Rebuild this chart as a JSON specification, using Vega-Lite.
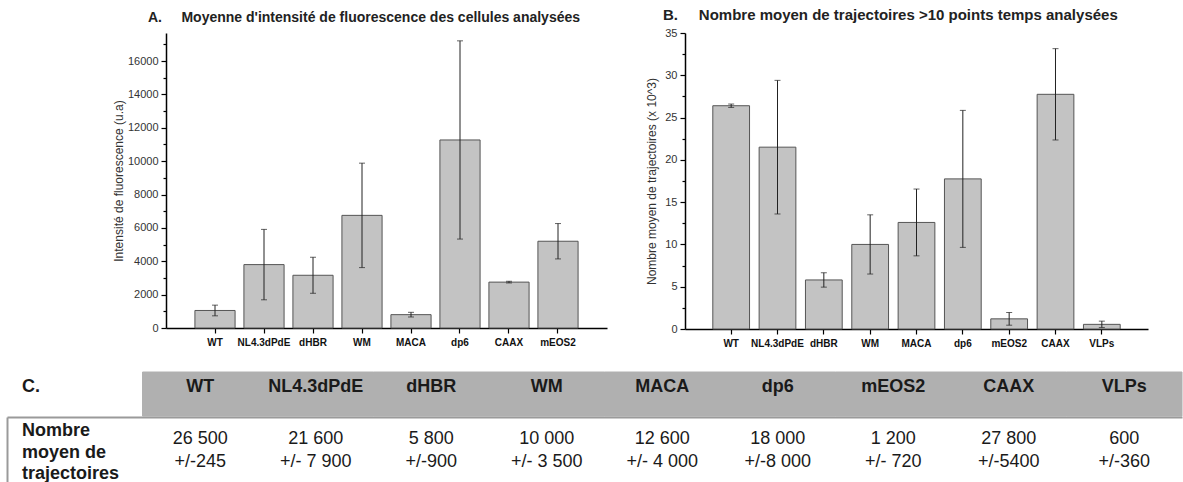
{
  "$schema": "https://vega.github.io/schema/vega-lite/v6.json",
  "background": "white",
  "padding": {"left": 7, "top": 8, "right": 0, "bottom": 0},
  "config": {
    "font": "Liberation Sans",
    "view": {"stroke": null},
    "axis": {"grid": false, "domainColor": "#000", "domainWidth": 1.5, "tickColor": "#000", "tickWidth": 1.2, "tickSize": 5, "labelColor": "#333", "titleColor": "#333", "titleFontWeight": "normal", "labelOverlap": false}
  },
  "datasets": {
    "fluo": [
      {"name": "WT", "mean": 1050, "err": 320},
      {"name": "NL4.3dPdE", "mean": 3800, "err": 2110},
      {"name": "dHBR", "mean": 3160, "err": 1080},
      {"name": "WM", "mean": 6750, "err": 3130},
      {"name": "MACA", "mean": 800, "err": 140},
      {"name": "dp6", "mean": 11270, "err": 5940},
      {"name": "CAAX", "mean": 2750, "err": 50},
      {"name": "mEOS2", "mean": 5200, "err": 1060}
    ],
    "traj": [
      {"name": "WT", "mean": 26.4, "err": 0.2},
      {"name": "NL4.3dPdE", "mean": 21.5, "err": 7.9},
      {"name": "dHBR", "mean": 5.8, "err": 0.85},
      {"name": "WM", "mean": 10.0, "err": 3.5},
      {"name": "MACA", "mean": 12.6, "err": 3.95},
      {"name": "dp6", "mean": 17.75, "err": 8.1},
      {"name": "mEOS2", "mean": 1.2, "err": 0.75},
      {"name": "CAAX", "mean": 27.75, "err": 5.4},
      {"name": "VLPs", "mean": 0.55, "err": 0.38}
    ],
    "header": [
      {"col": "C.", "txt": "C."},
      {"col": "WT", "txt": "WT"},
      {"col": "NL4.3dPdE", "txt": "NL4.3dPdE"},
      {"col": "dHBR", "txt": "dHBR"},
      {"col": "WM", "txt": "WM"},
      {"col": "MACA", "txt": "MACA"},
      {"col": "dp6", "txt": "dp6"},
      {"col": "mEOS2", "txt": "mEOS2"},
      {"col": "CAAX", "txt": "CAAX"},
      {"col": "VLPs", "txt": "VLPs"}
    ],
    "cells": [
      {"col": "row", "txt": "Nombre\nmoyen de\ntrajectoires"},
      {"col": "WT", "txt": "26 500\n+/-245"},
      {"col": "NL4.3dPdE", "txt": "21 600\n+/- 7 900"},
      {"col": "dHBR", "txt": "5 800\n+/-900"},
      {"col": "WM", "txt": "10 000\n+/- 3 500"},
      {"col": "MACA", "txt": "12 600\n+/- 4 000"},
      {"col": "dp6", "txt": "18 000\n+/-8 000"},
      {"col": "mEOS2", "txt": "1 200\n+/- 720"},
      {"col": "CAAX", "txt": "27 800\n+/-5400"},
      {"col": "VLPs", "txt": "600\n+/-360"}
    ]
  },
  "spacing": 23,
  "vconcat": [
    {
      "spacing": 38,
      "hconcat": [
        {"width": 67, "height": 10, "data": {"values": []}, "mark": "point", "encoding": {}},
        {
          "width": 441,
          "height": 295,
          "title": {"text": "A.\u00a0\u00a0\u00a0\u00a0\u00a0Moyenne d'intensité de fluorescence des cellules analysées", "anchor": "start", "frame": "group", "baseline": "alphabetic", "offset": -3, "dx": -18, "fontSize": 14, "fontWeight": "bold", "color": "#222"},
          "data": {"name": "fluo"},
          "resolve": {"axis": {"y": "independent"}},
          "encoding": {
            "x": {"field": "name", "type": "nominal", "sort": null, "scale": {"paddingInner": 0.18, "paddingOuter": 0.59},
              "axis": {"title": null, "labelAngle": 0, "labelFontWeight": "bold", "labelFontSize": 10, "labelColor": "#111", "labelPadding": 4}}
          },
          "layer": [
            {
              "mark": {"type": "bar", "fill": "#c3c3c3", "stroke": "#555", "strokeWidth": 1},
              "encoding": {
                "y": {"field": "mean", "type": "quantitative", "title": "Intensité de fluorescence (u.a)",
                  "scale": {"domain": [0, 17680], "nice": false},
                  "axis": {"orient": "left", "values": [0, 2000, 4000, 6000, 8000, 10000, 12000, 14000, 16000], "format": "d", "labelOverlap": false, "labelFontSize": 11, "titleFontSize": 12, "labelPadding": 3, "titlePadding": 2}}
              }
            },
            {
              "mark": {"type": "errorbar", "ticks": {"size": 6, "color": "#222"}, "rule": {"color": "#222", "strokeWidth": 1}},
              "encoding": {
                "y": {"field": "mean", "type": "quantitative", "title": null,
                  "axis": {"orient": "left", "values": [1000, 3000, 5000, 7000, 9000, 11000, 13000, 15000, 17000], "labels": false, "domain": false, "tickSize": 3, "title": null}},
                "yError": {"field": "err"}
              }
            }
          ]
        },
        {
          "width": 463,
          "height": 296,
          "title": {"text": "B.\u00a0\u00a0\u00a0\u00a0\u00a0Nombre moyen de trajectoires >10 points temps analysées", "anchor": "start", "frame": "group", "baseline": "alphabetic", "offset": -8, "dx": -22, "fontSize": 15, "fontWeight": "bold", "color": "#222"},
          "data": {"name": "traj"},
          "resolve": {"axis": {"y": "independent"}},
          "encoding": {
            "x": {"field": "name", "type": "nominal", "sort": null, "scale": {"paddingInner": 0.207, "paddingOuter": 0.6},
              "axis": {"title": null, "labelAngle": 0, "labelFontWeight": "bold", "labelFontSize": 10, "labelColor": "#111", "labelPadding": 4}}
          },
          "layer": [
            {
              "mark": {"type": "bar", "fill": "#c3c3c3", "stroke": "#555", "strokeWidth": 1},
              "encoding": {
                "y": {"field": "mean", "type": "quantitative", "title": "Nombre moyen de trajectoires (x 10^3)",
                  "scale": {"domain": [0, 35], "nice": false},
                  "axis": {"orient": "left", "values": [0, 5, 10, 15, 20, 25, 30, 35], "labelOverlap": false, "labelFontSize": 11, "titleFontSize": 12, "labelPadding": 3, "titlePadding": 6}}
              }
            },
            {
              "mark": {"type": "errorbar", "ticks": {"size": 6, "color": "#222"}, "rule": {"color": "#222", "strokeWidth": 1}},
              "encoding": {
                "y": {"field": "mean", "type": "quantitative", "title": null,
                  "axis": {"orient": "left", "values": [2.5, 7.5, 12.5, 17.5, 22.5, 27.5, 32.5], "labels": false, "domain": false, "tickSize": 3, "title": null}},
                "yError": {"field": "err"}
              }
            }
          ]
        }
      ]
    },
    {
      "spacing": 0,
      "vconcat": [
        {
          "width": 1175,
          "height": 44,
          "data": {"name": "header"},
          "encoding": {
            "x": {"field": "col", "type": "nominal", "scale": {"type": "band", "domain": ["C.", "WT", "NL4.3dPdE", "dHBR", "WM", "MACA", "dp6", "mEOS2", "CAAX", "VLPs"], "paddingInner": 0, "paddingOuter": 0.0866, "align": 1}, "axis": null}
          },
          "layer": [
            {"transform": [{"filter": "datum.col !== 'C.'"}], "mark": {"type": "bar", "color": "#b0b0b0", "stroke": "#b0b0b0", "strokeWidth": 1}},
            {"transform": [{"filter": "datum.col !== 'C.'"}], "mark": {"type": "text", "fontSize": 18, "fontWeight": "bold", "color": "#1a1a1a", "dy": -7}, "encoding": {"text": {"field": "txt"}}},
            {"transform": [{"filter": "datum.col === 'C.'"}], "mark": {"type": "text", "fontSize": 18, "fontWeight": "bold", "color": "#1a1a1a", "align": "left", "dy": -7, "dx": -5}, "encoding": {"x": {"field": "col", "type": "nominal", "bandPosition": 0}, "text": {"field": "txt"}}}
          ]
        },
        {
          "width": 1175,
          "height": 66,
          "data": {"name": "cells"},
          "encoding": {
            "x": {"field": "col", "type": "nominal", "scale": {"type": "band", "domain": ["row", "WT", "NL4.3dPdE", "dHBR", "WM", "MACA", "dp6", "mEOS2", "CAAX", "VLPs"], "paddingInner": 0, "paddingOuter": 0.0866, "align": 1},
              "axis": {"orient": "top", "labels": false, "ticks": false, "title": null, "domainColor": "#9a9a9a", "domainWidth": 2}},
            "y": {"datum": "v", "type": "nominal", "axis": {"labels": false, "ticks": false, "title": null, "domainColor": "#9a9a9a", "domainWidth": 2}}
          },
          "layer": [
            {"transform": [{"filter": "datum.col !== 'row'"}], "mark": {"type": "text", "fontSize": 18, "color": "#1a1a1a", "lineBreak": "\n", "lineHeight": 23, "dy": -11}, "encoding": {"text": {"field": "txt"}}},
            {"transform": [{"filter": "datum.col === 'row'"}], "mark": {"type": "text", "fontSize": 18, "fontWeight": "bold", "color": "#1a1a1a", "align": "left", "lineBreak": "\n", "lineHeight": 21.5, "dy": -19, "dx": -5}, "encoding": {"x": {"field": "col", "type": "nominal", "bandPosition": 0}, "text": {"field": "txt"}}}
          ]
        }
      ]
    }
  ]
}
